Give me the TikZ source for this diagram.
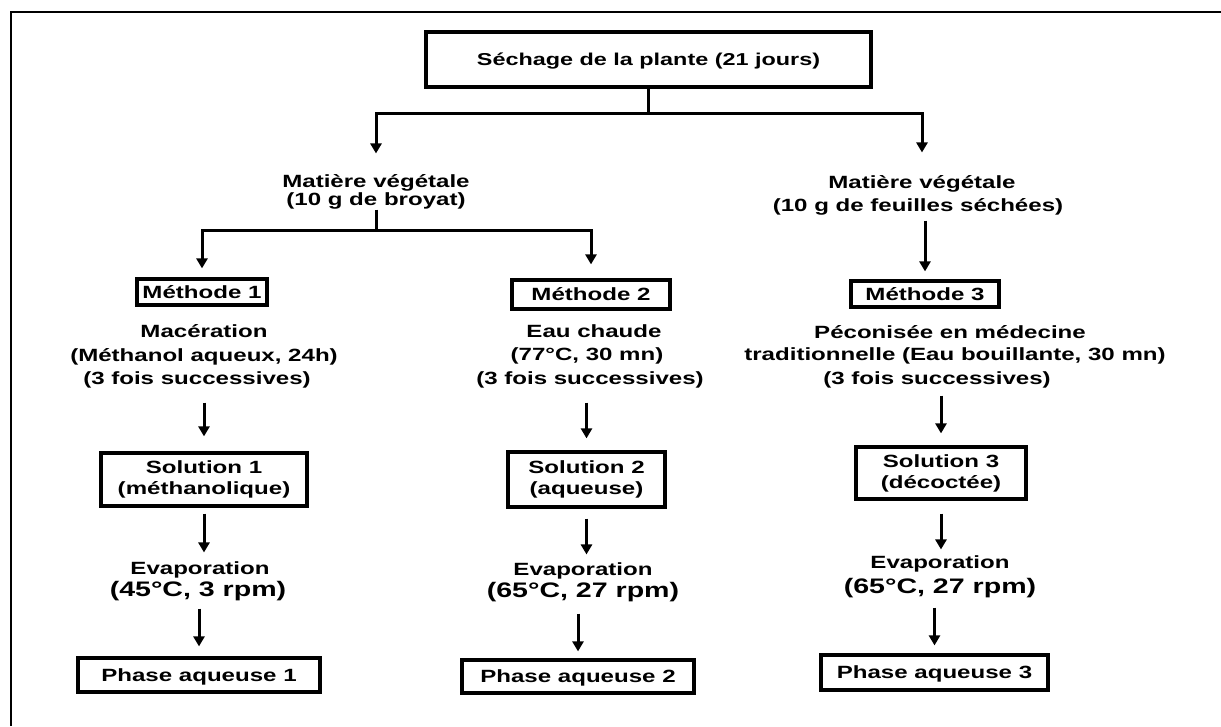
\documentclass[tikz,border=0pt]{standalone}
\usepackage{fontspec}
\setmainfont{Liberation Sans}[FakeStretch=1.36]
\usetikzlibrary{arrows.meta,calc}
\begin{document}
\begin{tikzpicture}[x=1pt,y=-1pt,
  ln/.style={line width=3pt},
  arr/.style={ln,-{Triangle[width=11pt,length=10pt]}},
  boxst/.style={draw,line width=3.2pt,inner sep=0pt,align=center,font=\bfseries\fontsize{17.7}{21}\selectfont},
  onel/.style={text height=12.7pt,text depth=0pt},
  txt/.style={inner sep=0pt,font=\bfseries\fontsize{17.7}{21}\selectfont,text height=12.7pt,text depth=0pt},
  big/.style={inner sep=0pt,font=\bfseries\fontsize{21}{24}\selectfont,text height=15pt,text depth=0pt}]
\useasboundingbox (0,0) rectangle (1221,726);
\fill[white] (0,0) rectangle (1221,726);
% frame (top and left edges)
\draw[line width=2.8pt] (11,726) -- (11,12) -- (1221,12);

% boxes
\node[boxst,onel,minimum width=445pt,minimum height=55pt,font=\bfseries\fontsize{17.2}{20}\selectfont] (top) at (648.5,59.5) {Séchage de la plante (21 jours)};
\node[boxst,onel,minimum width=130pt,minimum height=26pt] (m1) at (202,292) {Méthode 1};
\node[boxst,onel,minimum width=158pt,minimum height=29pt] (m2) at (591,294.5) {Méthode 2};
\node[boxst,onel,minimum width=148pt,minimum height=26pt] (m3) at (925,294) {Méthode 3};
\node[boxst,minimum width=206pt,minimum height=53pt] (s1) at (204,479.5) {Solution 1\\(méthanolique)};
\node[boxst,minimum width=157pt,minimum height=55pt] (s2) at (586.5,479.5) {Solution 2\\(aqueuse)};
\node[boxst,minimum width=170pt,minimum height=52pt] (s3) at (941,473) {Solution 3\\(décoctée)};
\node[boxst,onel,minimum width=242pt,minimum height=34pt] (p1) at (199,675) {Phase aqueuse 1};
\node[boxst,onel,minimum width=232pt,minimum height=33pt] (p2) at (578,676.5) {Phase aqueuse 2};
\node[boxst,onel,minimum width=227pt,minimum height=35pt] (p3) at (934.5,672.5) {Phase aqueuse 3};

% plain texts
\node[txt] (mat1a) at (376,181) {Matière végétale};
\node[txt] (mat1b) at (376,199) {(10 g de broyat)};
\node[txt] (mat2a) at (922,182) {Matière végétale};
\node[txt] (mat2b) at (918,205) {(10 g de feuilles séchées)};

\node[txt] (m1a) at (204,331) {Macération};
\node[txt] (m1b) at (204,355) {(Méthanol aqueux, 24h)};
\node[txt] (m1c) at (197,378) {(3 fois successives)};
\node[txt] (m2a) at (594,331) {Eau chaude};
\node[txt] (m2b) at (587,354) {(77°C, 30 mn)};
\node[txt] (m2c) at (590,378) {(3 fois successives)};
\node[txt] (m3a) at (950,332) {Péconisée en médecine};
\node[txt] (m3b) at (955,354) {traditionnelle (Eau bouillante, 30 mn)};
\node[txt] (m3c) at (937,378) {(3 fois successives)};

\node[txt] (e1a) at (200,568) {Evaporation};
\node[big] (e1b) at (198,589) {(45°C, 3 rpm)};
\node[txt] (e2a) at (583,569) {Evaporation};
\node[big] (e2b) at (583,590) {(65°C, 27 rpm)};
\node[txt] (e3a) at (940,562) {Evaporation};
\node[big] (e3b) at (940,586) {(65°C, 27 rpm)};

% junction levels
\coordinate (h0) at (0,113);
\coordinate (h1) at (0,230);

% connectors
\draw[ln] (top.south) -- (top.south |- h0);
\draw[arr,shorten >=21pt] (top.south |- h0) -| (mat1a.north);
\draw[arr,shorten >=23pt] (top.south |- h0) -| (mat2a.north);

\draw[ln,shorten <=4pt] (mat1b.south) -- (mat1b.south |- h1);
\draw[arr,shorten >=9pt] (mat1b.south |- h1) -| (m1.north);
\draw[arr,shorten >=14pt] (mat1b.south |- h1) -| (m2.north);
\draw[arr,shorten <=9pt,shorten >=8pt] (mat2b.south -| m3.north) -- (m3.north);

\draw[arr,shorten <=18pt,shorten >=15pt] (m1c.south -| s1.north) -- (s1.north);
\draw[arr,shorten <=18pt,shorten >=12pt] (m2c.south -| s2.north) -- (s2.north);
\draw[arr,shorten <=11pt,shorten >=12pt] (m3c.south -| s3.north) -- (s3.north);

\draw[arr,shorten <=6pt,shorten >=9pt] (s1.south) -- (s1.south |- e1a.north);
\draw[arr,shorten <=10pt,shorten >=8pt] (s2.south) -- (s2.south |- e2a.north);
\draw[arr,shorten <=13pt,shorten >=6pt] (s3.south) -- (s3.south |- e3a.north);

\draw[arr,shorten <=12pt,shorten >=10pt] (e1b.south -| p1.north) -- (p1.north);
\draw[arr,shorten <=16pt,shorten >=7pt] (e2b.south -| p2.north) -- (p2.north);
\draw[arr,shorten <=14pt,shorten >=8pt] (e3b.south -| p3.north) -- (p3.north);
\end{tikzpicture}
\end{document}
